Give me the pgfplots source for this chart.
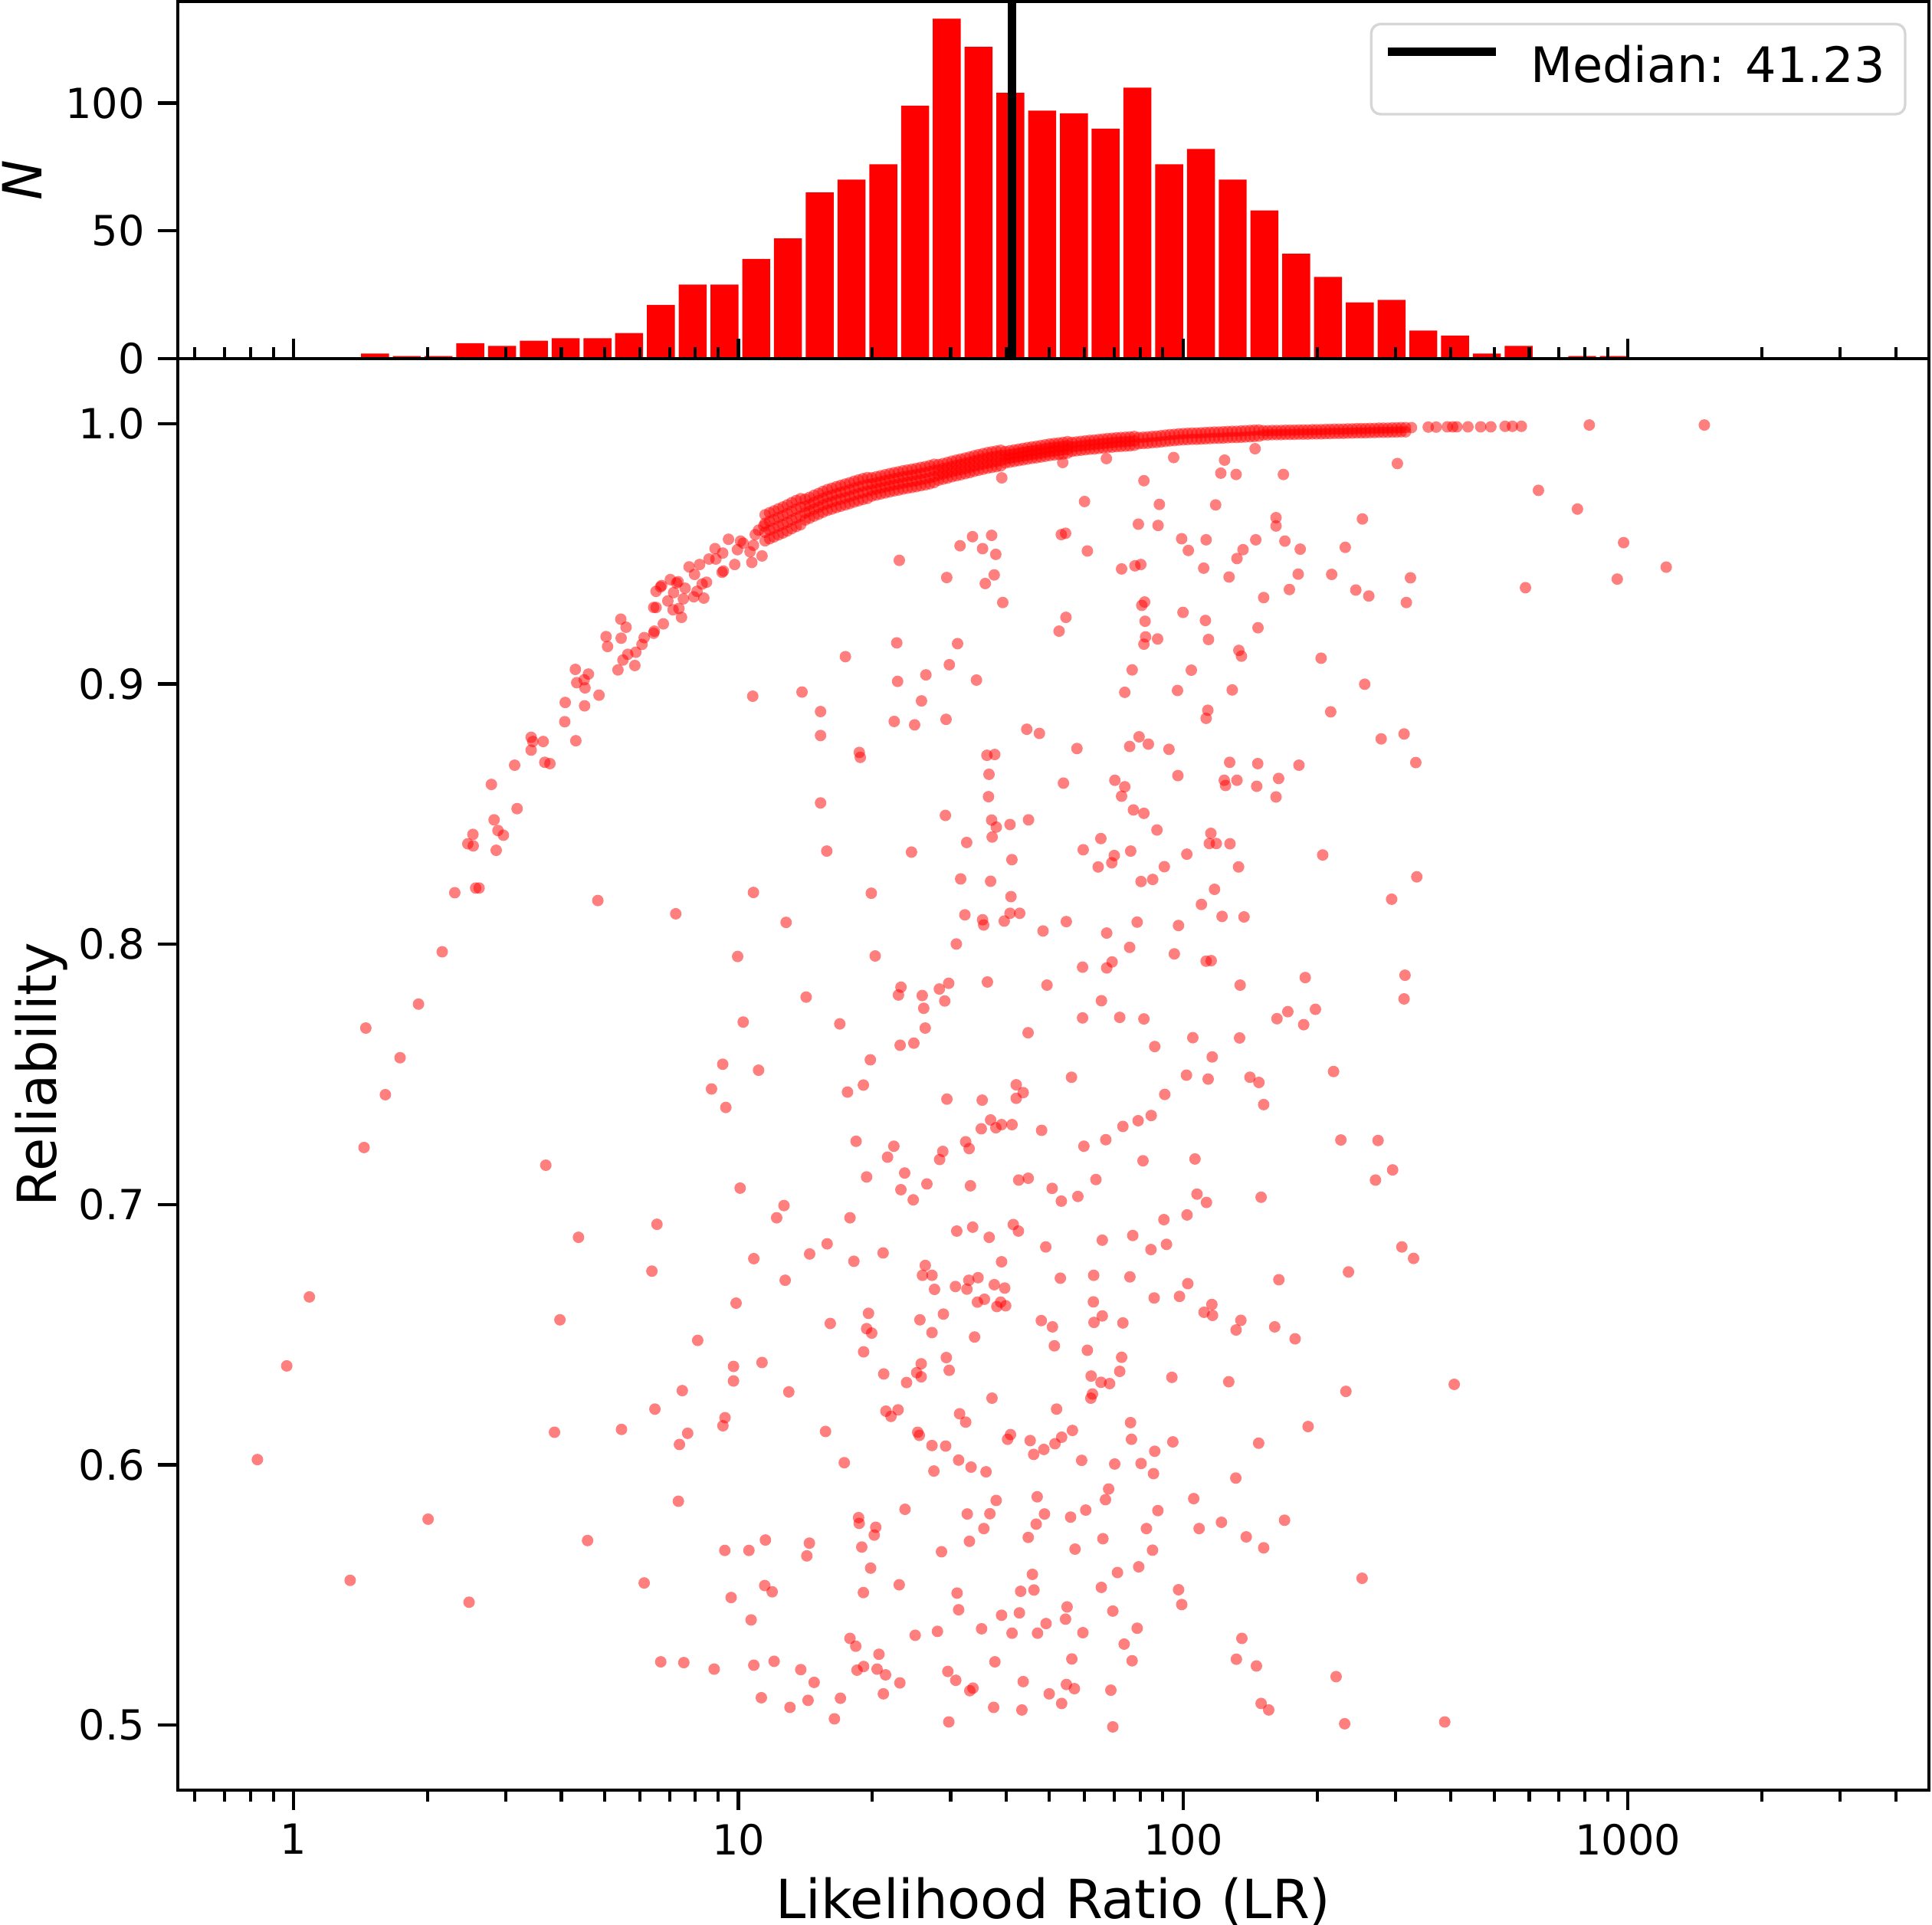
\documentclass[border=0pt]{standalone}
\usepackage{fontspec}
\setmainfont{DejaVu Sans}
\usepackage{pgfplots}
\pgfplotsset{compat=1.18}
\definecolor{legendgray}{gray}{0.84}

\begin{document}
\begin{tikzpicture}

% scatter: reliability against LR
\begin{axis}[name=main, at={(0,0)}, anchor=south west,
  scale only axis, width=548.4bp, height=448.32bp,
  xmode=log, xmin=0.549, xmax=4750,
  ymin=0.475, ymax=1.025,
  axis on top,
  axis line style={line width=1bp},
  every tick/.append style={black, line width=1bp},
  major tick length=6.2bp, minor tick length=3.6bp,
  tick pos=left, tick align=outside,
  xtick={1,10,100,1000},
  minor xtick={0.6,0.7,0.8,0.9,2,3,4,5,6,7,8,9,20,30,40,50,60,70,80,90,
               200,300,400,500,600,700,800,900,2000,3000,4000},
  xticklabels={1,10,100,1000},
  ytick={0.5,0.6,0.7,0.8,0.9,1.0},
  yticklabels={0.5,0.6,0.7,0.8,0.9,1.0},
  tick label style={font=\fontsize{13bp}{15.6bp}\selectfont, inner sep=0pt},
  xticklabel shift=4.2bp, yticklabel shift=4.0bp,
  label style={font=\fontsize{16.9bp}{20bp}\selectfont, inner sep=0pt},
  xlabel={Likelihood Ratio (LR)},
  ylabel={Reliability},
  xlabel style={at={(axis description cs:0.5,0)}, anchor=base, yshift=-40.1bp},
  ylabel style={at={(axis description cs:-0.0693,0.5)}, anchor=base},
]
\addplot[only marks, mark=*, mark size=1.8bp,
  mark options={draw opacity=0, fill=red, fill opacity=0.5}] coordinates {
% left arm of the band
(1.453,0.7678) (1.735,0.7564) (1.909,0.7770) (2.158,0.7971) (2.303,0.8198)
(2.566,0.8216) (2.612,0.8216) (2.464,0.8386) (2.53,0.8422) (2.534,0.8378)
(2.854,0.8361) (2.88,0.8437) (2.962,0.8419) (2.823,0.8478) (3.18,0.8521)
(2.784,0.8614) (3.14,0.8688) (3.42,0.8795) (3.45,0.8779) (3.42,0.8746)
(3.64,0.8779) (3.67,0.8699) (3.77,0.8694) (4.31,0.8782) (4.07,0.8855)
(4.08,0.8929) (4.51,0.8916) (4.86,0.8957) (4.30,0.9056) (4.60,0.9038)
(4.50,0.9016) (4.33,0.9005) (4.52,0.8985) (5.04,0.9182) (5.08,0.9144)
(5.44,0.9249) (5.59,0.9218) (5.45,0.9176) (5.36,0.9054) (5.50,0.9092)
(5.64,0.9114) (5.85,0.9071) (5.88,0.9122) (6.07,0.9152) (6.14,0.9178)
(6.45,0.9294) (6.53,0.9294) (6.47,0.9203) (6.45,0.9195) (6.78,0.9231)
(6.53,0.9356) (6.68,0.9373) (6.72,0.9378) (7.03,0.9401) (7.15,0.9351)
(7.26,0.9388) (7.32,0.9393) (7.59,0.9368) (7.52,0.9327) (6.94,0.9319)
(7.13,0.9285) (7.35,0.9290) (7.45,0.9256) (7.94,0.9335) (8.07,0.9356)
(8.36,0.9330) (8.29,0.9384) (8.48,0.9391) (7.75,0.9450) (7.97,0.9421)
(8.18,0.9459) (8.59,0.9480) (8.86,0.9520) (8.90,0.9480) (9.22,0.9503)
(9.19,0.9429) (9.25,0.9434) (9.50,0.9556) (9.81,0.9459) (9.95,0.9516)
(10.11,0.9549) (10.25,0.9541) (10.62,0.9508) (10.81,0.9533) (10.72,0.9467)
(10.91,0.9574) (11.10,0.9591) (11.40,0.9607) (11.30,0.9492)
% dense band, wide part
(11.48,0.9650) (11.48,0.9617) (11.48,0.9583) (11.48,0.9550)
(11.75,0.9658) (11.75,0.9625) (11.75,0.9591) (11.75,0.9558)
(12.02,0.9665) (12.02,0.9632) (12.02,0.9598) (12.02,0.9565)
(12.30,0.9673) (12.30,0.9640) (12.30,0.9606) (12.30,0.9573)
(12.59,0.9680) (12.59,0.9647) (12.59,0.9613) (12.59,0.9580)
(12.88,0.9688) (12.88,0.9655) (12.88,0.9621) (12.88,0.9588)
(13.18,0.9697) (13.18,0.9664) (13.18,0.9630) (13.18,0.9597)
(13.49,0.9705) (13.49,0.9672) (13.49,0.9638) (13.49,0.9605)
(13.80,0.9712) (13.80,0.9679) (13.80,0.9645) (13.80,0.9612)
(14.13,0.9710) (14.13,0.9683) (14.13,0.9657) (14.13,0.9630)
(14.45,0.9717) (14.45,0.9690) (14.45,0.9664) (14.45,0.9637)
(14.79,0.9725) (14.79,0.9698) (14.79,0.9672) (14.79,0.9645)
(15.14,0.9732) (15.14,0.9705) (15.14,0.9679) (15.14,0.9652)
(15.49,0.9740) (15.49,0.9713) (15.49,0.9687) (15.49,0.9660)
(15.85,0.9747) (15.85,0.9720) (15.85,0.9694) (15.85,0.9667)
(16.22,0.9752) (16.22,0.9725) (16.22,0.9699) (16.22,0.9672)
(16.60,0.9758) (16.60,0.9731) (16.60,0.9705) (16.60,0.9678)
(16.98,0.9763) (16.98,0.9736) (16.98,0.9710) (16.98,0.9683)
(17.38,0.9768) (17.38,0.9741) (17.38,0.9715) (17.38,0.9688)
(17.78,0.9773) (17.78,0.9746) (17.78,0.9720) (17.78,0.9693)
(18.20,0.9779) (18.20,0.9752) (18.20,0.9726) (18.20,0.9699)
(18.62,0.9784) (18.62,0.9757) (18.62,0.9731) (18.62,0.9704)
(19.05,0.9789) (19.05,0.9762) (19.05,0.9736) (19.05,0.9709)
(19.50,0.9793) (19.50,0.9766) (19.50,0.9740) (19.50,0.9713)
(19.95,0.9792) (19.95,0.9769) (19.95,0.9745) (19.95,0.9722)
(20.42,0.9796) (20.42,0.9773) (20.42,0.9749) (20.42,0.9726)
(20.89,0.9800) (20.89,0.9777) (20.89,0.9753) (20.89,0.9730)
(21.38,0.9804) (21.38,0.9781) (21.38,0.9757) (21.38,0.9734)
(21.88,0.9808) (21.88,0.9785) (21.88,0.9761) (21.88,0.9738)
(22.39,0.9812) (22.39,0.9789) (22.39,0.9765) (22.39,0.9742)
(22.91,0.9815) (22.91,0.9792) (22.91,0.9768) (22.91,0.9745)
(23.44,0.9819) (23.44,0.9796) (23.44,0.9772) (23.44,0.9749)
(23.99,0.9822) (23.99,0.9799) (23.99,0.9775) (23.99,0.9752)
(24.55,0.9825) (24.55,0.9802) (24.55,0.9778) (24.55,0.9755)
(25.12,0.9828) (25.12,0.9805) (25.12,0.9781) (25.12,0.9758)
(25.70,0.9832) (25.70,0.9809) (25.70,0.9785) (25.70,0.9762)
(26.30,0.9835) (26.30,0.9812) (26.30,0.9788) (26.30,0.9765)
(26.92,0.9839) (26.92,0.9816) (26.92,0.9792) (26.92,0.9769)
(27.54,0.9844) (27.54,0.9821) (27.54,0.9797) (27.54,0.9774)
(28.18,0.9843) (28.18,0.9823) (28.18,0.9803) (28.18,0.9783)
(28.84,0.9847) (28.84,0.9827) (28.84,0.9807) (28.84,0.9787)
(29.51,0.9851) (29.51,0.9831) (29.51,0.9811) (29.51,0.9791)
(30.20,0.9856) (30.20,0.9836) (30.20,0.9816) (30.20,0.9796)
(30.90,0.9860) (30.90,0.9840) (30.90,0.9820) (30.90,0.9800)
(31.62,0.9864) (31.62,0.9844) (31.62,0.9824) (31.62,0.9804)
(32.36,0.9868) (32.36,0.9848) (32.36,0.9828) (32.36,0.9808)
(33.11,0.9872) (33.11,0.9852) (33.11,0.9832) (33.11,0.9812)
(33.88,0.9877) (33.88,0.9857) (33.88,0.9837) (33.88,0.9817)
(34.67,0.9881) (34.67,0.9861) (34.67,0.9841) (34.67,0.9821)
(35.48,0.9885) (35.48,0.9865) (35.48,0.9845) (35.48,0.9825)
(36.31,0.9889) (36.31,0.9869) (36.31,0.9849) (36.31,0.9829)
(37.15,0.9892) (37.15,0.9872) (37.15,0.9852) (37.15,0.9832)
(38.02,0.9895) (38.02,0.9875) (38.02,0.9855) (38.02,0.9835)
(38.90,0.9898) (38.90,0.9878) (38.90,0.9858) (38.90,0.9838)
(39.81,0.9893) (39.81,0.9878) (39.81,0.9864) (39.81,0.9849)
(40.74,0.9896) (40.74,0.9881) (40.74,0.9867) (40.74,0.9852)
(41.69,0.9899) (41.69,0.9884) (41.69,0.9870) (41.69,0.9855)
(42.66,0.9902) (42.66,0.9887) (42.66,0.9873) (42.66,0.9858)
(43.65,0.9905) (43.65,0.9890) (43.65,0.9876) (43.65,0.9861)
(44.67,0.9908) (44.67,0.9893) (44.67,0.9879) (44.67,0.9864)
(45.71,0.9911) (45.71,0.9896) (45.71,0.9882) (45.71,0.9867)
(46.77,0.9913) (46.77,0.9898) (46.77,0.9884) (46.77,0.9869)
(47.86,0.9916) (47.86,0.9901) (47.86,0.9887) (47.86,0.9872)
(48.98,0.9919) (48.98,0.9904) (48.98,0.9890) (48.98,0.9875)
(50.12,0.9922) (50.12,0.9907) (50.12,0.9893) (50.12,0.9878)
(51.29,0.9924) (51.29,0.9909) (51.29,0.9895) (51.29,0.9880)
(52.48,0.9926) (52.48,0.9911) (52.48,0.9897) (52.48,0.9882)
(53.70,0.9928) (53.70,0.9913) (53.70,0.9899) (53.70,0.9884)
(54.95,0.9931) (54.95,0.9916) (54.95,0.9902) (54.95,0.9887)
% dense band, narrowing part
(56.23,0.9928) (56.23,0.9911) (56.23,0.9894)
(57.54,0.9930) (57.54,0.9913) (57.54,0.9896)
(58.88,0.9932) (58.88,0.9915) (58.88,0.9898)
(60.26,0.9934) (60.26,0.9917) (60.26,0.9900)
(61.66,0.9936) (61.66,0.9919) (61.66,0.9902)
(63.10,0.9937) (63.10,0.9920) (63.10,0.9903)
(64.57,0.9939) (64.57,0.9922) (64.57,0.9905)
(66.07,0.9941) (66.07,0.9924) (66.07,0.9907)
(67.61,0.9943) (67.61,0.9926) (67.61,0.9909)
(69.18,0.9944) (69.18,0.9927) (69.18,0.9910)
(70.79,0.9946) (70.79,0.9929) (70.79,0.9912)
(72.44,0.9947) (72.44,0.9930) (72.44,0.9913)
(74.13,0.9948) (74.13,0.9931) (74.13,0.9914)
(75.86,0.9949) (75.86,0.9932) (75.86,0.9915)
(77.62,0.9951) (77.62,0.9934) (77.62,0.9917)
(79.43,0.9947) (79.43,0.9923) (81.28,0.9948) (81.28,0.9924)
(83.18,0.9949) (83.18,0.9925) (85.11,0.9951) (85.11,0.9927)
(87.10,0.9952) (87.10,0.9928) (89.13,0.9954) (89.13,0.9930)
(91.20,0.9956) (91.20,0.9932) (93.33,0.9958) (93.33,0.9934)
(95.50,0.9959) (95.50,0.9935) (97.72,0.9961) (97.72,0.9937)
(100.0,0.9962) (100.0,0.9938) (102.3,0.9963) (102.3,0.9939)
(104.7,0.9964) (104.7,0.9940) (107.2,0.9964) (107.2,0.9940)
(109.6,0.9965) (109.6,0.9941) (112.2,0.9966) (112.2,0.9942)
(114.8,0.9967) (114.8,0.9943) (117.5,0.9968) (117.5,0.9944)
(120.2,0.9968) (120.2,0.9944) (123.0,0.9969) (123.0,0.9945)
(125.9,0.9970) (125.9,0.9946) (128.8,0.9971) (128.8,0.9947)
(131.8,0.9971) (131.8,0.9947) (134.9,0.9972) (134.9,0.9948)
(138.0,0.9973) (138.0,0.9949) (141.3,0.9974) (141.3,0.9950)
(144.5,0.9975) (144.5,0.9951) (147.9,0.9976) (147.9,0.9952)
(151.4,0.9973) (151.4,0.9957) (154.9,0.9973) (154.9,0.9957) (158.5,0.9974)
(158.5,0.9958) (162.2,0.9974) (162.2,0.9958) (166.0,0.9974) (166.0,0.9958)
(169.8,0.9975) (169.8,0.9959) (173.8,0.9975) (173.8,0.9959) (177.8,0.9975)
(177.8,0.9959) (182.0,0.9976) (182.0,0.9960) (186.2,0.9976) (186.2,0.9960)
(190.5,0.9976) (190.5,0.9960) (195.0,0.9977) (195.0,0.9961) (199.5,0.9977)
(199.5,0.9961) (204.2,0.9977) (204.2,0.9961) (208.9,0.9978) (208.9,0.9962)
(213.8,0.9978) (213.8,0.9962) (218.8,0.9979) (218.8,0.9963) (223.9,0.9979)
(223.9,0.9963) (229.1,0.9979) (229.1,0.9963) (234.4,0.9980) (234.4,0.9964)
(239.9,0.9980) (239.9,0.9964) (245.5,0.9981) (245.5,0.9965) (251.2,0.9981)
(251.2,0.9965) (257.0,0.9981) (257.0,0.9965) (263.0,0.9982) (263.0,0.9966)
(269.2,0.9982) (269.2,0.9966) (275.4,0.9983) (275.4,0.9967) (281.8,0.9983)
(281.8,0.9967) (288.4,0.9983) (288.4,0.9967) (295.1,0.9984) (295.1,0.9968)
(302.0,0.9984) (302.0,0.9968) (309.0,0.9985) (309.0,0.9969) (316.2,0.9985)
(316.2,0.9969)
(326,0.9985) (355.6,0.9987) (370.5,0.9987) (392.5,0.9988) (403.6,0.9988)
(412.3,0.9988) (436.7,0.9988) (466.5,0.9988) (491.7,0.9988) (529.3,0.9990)
(549.8,0.9990) (575.9,0.9990) (818.5,0.9995) (1485,0.9995)
% scattered, LR below 12
(10.77,0.8953) (10.81,0.8199) (4.83,0.8168) (7.23,0.8117) (9.96,0.7953)
(10.25,0.7701) (9.22,0.7539) (11.10,0.7516)
(1.608,0.7422) (1.44,0.7219) (3.69,0.7151) (10.09,0.7063) (8.70,0.7444)
(9.37,0.7373) (6.56,0.6924) (4.37,0.6874) (6.39,0.6744) (10.83,0.6792)
(1.085,0.6645) (3.97,0.6557) (9.88,0.6621) (8.10,0.6478) (0.965,0.6380)
(9.75,0.6378) (9.75,0.6322) (11.30,0.6393) (7.48,0.6285) (6.49,0.6214)
(9.33,0.6181) (9.23,0.6150) (3.86,0.6125) (5.46,0.6136) (7.69,0.6121)
(7.37,0.6078) (0.829,0.6020) (7.33,0.5860) (2.006,0.5791) (4.58,0.5709)
(9.32,0.5671) (10.56,0.5671) (11.50,0.5711) (1.34,0.5556) (2.48,0.5472)
(6.14,0.5546) (9.63,0.5490) (10.68,0.5404) (11.46,0.5536) (6.69,0.5243)
(7.54,0.5240) (8.82,0.5215) (10.83,0.5230) (11.26,0.5105)
% scattered, LR 12 to 150, upper half
(39.1,0.9792) (53.6,0.9851) (67.2,0.9866) (95.2,0.9870) (123.9,0.9860)
(121.5,0.9810) (131.5,0.9805) (145.1,0.9904) (81.6,0.9781) (60.0,0.9701)
(88.4,0.9690) (118.3,0.9688) (79.3,0.9614) (87.8,0.9609) (99.2,0.9558)
(112.6,0.9554) (102.7,0.9513) (145.6,0.9554) (136.3,0.9516) (132.1,0.9482)
(111.2,0.9445) (126.8,0.9411) (72.7,0.9442) (77.9,0.9454) (80.3,0.9459)
(60.9,0.9511) (53.2,0.9574) (54.4,0.9579) (31.5,0.9531) (33.6,0.9566)
(37.1,0.9571) (35.4,0.9520) (37.9,0.9498) (23.0,0.9475) (29.4,0.9409)
(37.6,0.9419) (35.9,0.9386) (39.3,0.9313) (151.7,0.9332) (80.7,0.9302)
(81.9,0.9315) (99.9,0.9275) (112.2,0.9244) (82.1,0.9241) (54.5,0.9256)
(52.6,0.9203) (82.3,0.9181) (87.6,0.9173) (81.6,0.9153) (114.0,0.9171)
(147.3,0.9216) (133.4,0.9129) (135.2,0.9107) (22.7,0.9158) (31.1,0.9155)
(17.4,0.9105) (29.8,0.9074) (26.4,0.9035) (22.8,0.9010) (34.3,0.9015)
(13.9,0.8969) (25.8,0.8935) (15.3,0.8894) (22.4,0.8856) (24.9,0.8843)
(29.3,0.8864) (15.3,0.8802) (18.7,0.8737) (18.8,0.8718) (44.5,0.8826)
(47.5,0.8810) (57.7,0.8752) (36.2,0.8726) (37.7,0.8729) (36.6,0.8653)
(53.8,0.8619) (36.5,0.8567) (15.3,0.8543) (29.2,0.8495) (37.1,0.8477)
(38.0,0.8450) (37.2,0.8412) (40.8,0.8460) (44.9,0.8478) (76.8,0.9054)
(104.3,0.9053) (73.9,0.8968) (97.1,0.8975) (128.9,0.8977) (113.6,0.8899)
(112.6,0.8868) (79.6,0.8797) (75.8,0.8760) (83.5,0.8769) (92.9,0.8749)
(127.2,0.8699) (147.1,0.8694) (97.3,0.8648) (70.2,0.8630) (73.9,0.8605)
(72.7,0.8569) (123.7,0.8630) (124.5,0.8610) (132.1,0.8630) (146.3,0.8607)
(77.3,0.8516) (81.6,0.8503) (87.3,0.8439) (65.3,0.8406) (115.4,0.8426)
(114.5,0.8387) (118.7,0.8387) (127.4,0.8386) (59.6,0.8363) (70.0,0.8341)
(69.1,0.8313) (64.4,0.8297) (76.2,0.8358) (101.9,0.8346) (90.7,0.8298)
(133.2,0.8297) (80.4,0.8241) (85.4,0.8249) (117.6,0.8211) (109.9,0.8153)
(122.3,0.8107) (137.0,0.8105) (32.6,0.8391) (41.2,0.8325) (31.6,0.8251)
(36.9,0.8242) (41.0,0.8183) (15.8,0.8358) (24.5,0.8354) (19.9,0.8196)
(12.8,0.8084) (32.3,0.8113) (35.4,0.8094) (35.6,0.8074) (39.6,0.8089)
(40.8,0.8119) (42.9,0.8119) (48.4,0.8051) (54.6,0.8087) (67.3,0.8043)
(78.8,0.8085) (97.6,0.8072) (75.8,0.7988) (95.5,0.7963) (112.6,0.7935)
(115.6,0.7937) (69.2,0.7932) (67.3,0.7909) (59.4,0.7912) (30.9,0.8001)
(20.3,0.7955) (14.2,0.7797) (23.2,0.7835) (22.9,0.7805) (25.9,0.7803)
(26.1,0.7754) (28.3,0.7828) (29.7,0.7850) (29.1,0.7782) (36.3,0.7855)
(49.4,0.7843) (65.5,0.7783) (134.3,0.7843) (16.9,0.7694) (26.3,0.7678)
(23.1,0.7612) (24.8,0.7620) (19.8,0.7556) (44.8,0.7660) (59.4,0.7717)
(72.0,0.7719) (81.6,0.7713) (86.3,0.7607) (105.1,0.7641) (116.2,0.7567)
(133.9,0.7640)
% scattered, LR 12 to 150, lower half
(17.59,0.7432) (19.10,0.7459) (29.43,0.7405) (35.33,0.7401) (42.13,0.7460)
(43.68,0.7430) (42.13,0.7408) (56.09,0.7489) (101.7,0.7497) (113.8,0.7482)
(141.3,0.7489) (148.0,0.7469) (90.9,0.7423) (36.9,0.7325) (39.06,0.7307)
(41.23,0.7307) (35.16,0.7291) (37.92,0.7295) (48.05,0.7285) (18.39,0.7243)
(22.36,0.7224) (21.64,0.7182) (28.81,0.7204) (28.34,0.7173) (32.43,0.7241)
(33.02,0.7215) (59.80,0.7224) (66.99,0.7249) (73.19,0.7300) (79.20,0.7322)
(84.75,0.7342) (81.21,0.7168) (106.3,0.7175) (151.7,0.7384) (19.42,0.7106)
(23.65,0.7121) (26.53,0.7079) (23.19,0.7057) (24.72,0.7018) (33.24,0.7072)
(42.68,0.7094) (44.84,0.7101) (50.74,0.7062) (53.21,0.7013) (57.97,0.7031)
(63.65,0.7096) (107.4,0.7040) (112.8,0.7008) (102.0,0.6960) (149.7,0.7028)
(90.5,0.6942) (12.66,0.6996) (12.19,0.6949) (17.82,0.6949) (30.97,0.6898)
(33.63,0.6913) (36.63,0.6874) (41.50,0.6923) (42.61,0.6898) (49.09,0.6837)
(65.78,0.6863) (77.02,0.6881) (84.62,0.6827) (91.71,0.6847) (14.46,0.6810)
(15.83,0.6849) (18.18,0.6782) (21.15,0.6814) (12.74,0.6709) (26.31,0.6766)
(25.93,0.6728) (27.24,0.6728) (27.60,0.6674) (30.76,0.6685) (32.64,0.6675)
(32.97,0.6709) (34.58,0.6719) (37.61,0.6692) (39.70,0.6679) (39.06,0.6780)
(35.74,0.6636) (34.47,0.6625) (38.11,0.6608) (38.87,0.6625) (39.90,0.6611)
(52.95,0.6717) (62.92,0.6728) (75.90,0.6722) (102.4,0.6696) (86.04,0.6641)
(98.10,0.6647) (116.0,0.6616) (111.4,0.6586) (116.4,0.6574) (134.8,0.6555)
(131.5,0.6518) (62.82,0.6626) (65.78,0.6572) (63.03,0.6547) (73.19,0.6545)
(47.97,0.6554) (50.82,0.6530) (51.32,0.6457) (60.89,0.6440) (72.71,0.6413)
(71.99,0.6359) (62.10,0.6341) (65.35,0.6317) (68.32,0.6312) (62.52,0.6272)
(62.00,0.6256) (94.32,0.6336) (126.6,0.6319) (19.61,0.6582) (16.09,0.6543)
(19.42,0.6523) (19.94,0.6506) (19.12,0.6434) (25.59,0.6557) (28.90,0.6579)
(27.24,0.6508) (33.96,0.6491) (29.34,0.6412) (29.78,0.6363) (25.76,0.6388)
(25.17,0.6354) (25.76,0.6338) (23.88,0.6316) (21.22,0.6349) (12.98,0.6280)
(37.17,0.6256) (51.92,0.6214) (21.46,0.6206) (22.85,0.6211) (22.03,0.6186)
(31.43,0.6196) (32.43,0.6164) (15.70,0.6128) (25.30,0.6125) (25.51,0.6113)
(27.24,0.6074) (29.24,0.6072) (40.90,0.6116) (40.29,0.6098) (45.29,0.6093)
(46.11,0.6040) (48.61,0.6059) (51.49,0.6081) (53.30,0.6106) (56.36,0.6132)
(76.15,0.6162) (76.52,0.6098) (94.78,0.6088) (86.30,0.6052) (147.8,0.6083)
(17.30,0.6008) (27.51,0.5976) (31.27,0.6018) (33.35,0.5991) (36.04,0.5973)
(59.12,0.6017) (70.15,0.6003) (80.41,0.6005) (85.75,0.5966) (131.3,0.5949)
(67.98,0.5907) (66.88,0.5866) (46.96,0.5877) (37.98,0.5863) (105.6,0.5870)
(87.72,0.5824) (60.39,0.5826) (55.83,0.5799) (48.77,0.5811) (46.72,0.5772)
(44.84,0.5721) (36.76,0.5812) (32.70,0.5811) (35.63,0.5755) (33.07,0.5706)
(23.69,0.5829) (18.63,0.5797) (18.69,0.5775) (20.36,0.5760) (20.20,0.5730)
(18.94,0.5684) (14.44,0.5699) (14.25,0.5650) (28.62,0.5666) (57.13,0.5676)
(66.00,0.5716) (82.67,0.5755) (85.32,0.5672) (108.6,0.5755) (121.9,0.5779)
(138.6,0.5723) (151.7,0.5681) (19.83,0.5603) (19.10,0.5509) (22.99,0.5539)
(11.91,0.5512) (31.02,0.5507) (31.27,0.5443) (45.81,0.5579) (43.11,0.5514)
(46.18,0.5519) (39.06,0.5422) (42.83,0.5431) (54.82,0.5454) (54.38,0.5407)
(49.17,0.5390) (47.04,0.5353) (41.23,0.5353) (35.22,0.5370) (28.02,0.5360)
(24.97,0.5345) (59.50,0.5355) (65.47,0.5529) (71.16,0.5586) (79.46,0.5608)
(69.47,0.5438) (78.81,0.5372) (73.68,0.5311) (97.63,0.5520) (99.25,0.5463)
(135.5,0.5333) (131.7,0.5253) (146.1,0.5227) (17.82,0.5333) (18.36,0.5303)
(20.70,0.5272) (19.12,0.5225) (18.48,0.5211) (20.50,0.5215) (21.42,0.5193)
(23.07,0.5162) (21.18,0.5120) (12.03,0.5245) (13.81,0.5213) (14.80,0.5164)
(14.34,0.5095) (13.06,0.5068) (16.96,0.5103) (16.44,0.5024) (29.57,0.5206)
(30.81,0.5172) (33.13,0.5132) (33.68,0.5142) (37.73,0.5243) (43.68,0.5167)
(37.49,0.5068) (43.39,0.5058) (49.98,0.5120) (53.30,0.5083) (54.63,0.5156)
(56.94,0.5140) (56.19,0.5254) (76.77,0.5247) (68.77,0.5134) (69.47,0.4993)
(29.72,0.5012) (149.7,0.5083)
% scattered, LR above 150
(303.1,0.9847) (168.0,0.9805) (629.1,0.9744) (770.0,0.9672) (161.7,0.9639)
(161.7,0.9607) (252.9,0.9634) (169.3,0.9549) (183.3,0.9518) (231.4,0.9525)
(977.7,0.9543) (1219,0.9449) (946,0.9403) (588.2,0.9370) (181.4,0.9422)
(215.7,0.9421) (173.3,0.9363) (244.4,0.9361) (261.4,0.9338) (324.3,0.9408)
(317.5,0.9313) (204.2,0.9099) (255.9,0.8999) (214.6,0.8893) (278.7,0.8789)
(313.8,0.8808) (182.1,0.8688) (333.4,0.8698) (163.9,0.8637) (161.7,0.8566)
(205.9,0.8343) (335.1,0.8259) (294.2,0.8173) (188.1,0.7872) (315.3,0.7881)
(313.8,0.7790) (162.5,0.7714) (171.9,0.7741) (198.3,0.7750) (186.6,0.7691)
(217.8,0.7511)
(226.2,0.7248) (274.2,0.7246) (295.7,0.7133) (270.6,0.7094) (310.2,0.6837)
(329.6,0.6793) (235.3,0.6741) (164.1,0.6711) (160.6,0.6530) (178.5,0.6484)
(406.8,0.6309) (232.2,0.6282) (190.9,0.6147) (169.0,0.5787) (252.5,0.5564)
(220.7,0.5186) (155.7,0.5058) (230.7,0.5005) (387.3,0.5012)
};
\end{axis}

% histogram of LR on top
\begin{axis}[at={(main.north west)}, anchor=south west,
  scale only axis, width=548.4bp, height=111.84bp,
  xmode=log, xmin=0.549, xmax=4750,
  ymin=0, ymax=139.7,
  axis on top,
  axis line style={line width=1bp},
  every tick/.append style={black, line width=1bp},
  major tick length=6.2bp, minor tick length=3.6bp,
  tick pos=left, ytick align=outside, xtick align=inside,
  xtick={1,10,100,1000},
  minor xtick={0.6,0.7,0.8,0.9,2,3,4,5,6,7,8,9,20,30,40,50,60,70,80,90,
               200,300,400,500,600,700,800,900,2000,3000,4000},
  xticklabels={},
  ytick={0,50,100}, yticklabels={0,50,100},
  tick label style={font=\fontsize{13bp}{15.6bp}\selectfont, inner sep=0pt},
  yticklabel shift=4.0bp,
  label style={font=\fontsize{16.9bp}{20bp}\selectfont, inner sep=0pt},
  ylabel={\itshape N},
  ylabel style={at={(axis description cs:-0.0779,0.5)}, anchor=base},
  legend style={at={(axis description cs:0.9871,0.9405)}, anchor=north east,
    draw=legendgray, line width=0.8bp, rounded corners=2.9bp, fill=white,
    inner xsep=3.9bp, inner ysep=6.6bp,
    font=\fontsize{15.3bp}{18bp}\selectfont,
    nodes={inner sep=0pt, text depth=3.4bp},
    /tikz/every odd column/.append style={column sep=9.5bp}},
  legend image code/.code={\draw[#1, line width=2.7bp] (0bp,5.5bp) -- (33.8bp,5.5bp);},
]
\addplot[ybar interval, /pgf/bar interval width=0.88, /pgf/bar interval shift=0.5,
  fill=red, draw=none, forget plot] table {
edge count
1.404 2
1.6545 1
1.9502 1
2.2990 6
2.7102 5
3.1945 7
3.7651 8
4.4381 8
5.2323 10
6.1672 21
7.2694 29
8.5685 29
10.100 39
11.904 47
14.036 65
16.545 70
19.498 76
22.983 99
27.094 133
31.938 122
37.642 104
44.372 97
52.303 96
61.652 90
72.677 106
85.660 76
100.97 82
119.02 70
140.28 58
165.37 41
194.93 32
229.76 22
270.82 23
319.28 11
376.34 9
443.61 2
522.87 5
616.30 0
726.60 1
856.44 1
1009.5 0
};
\addplot[black, line width=2.7bp] coordinates {(41.23,0) (41.23,139.7)};
\addlegendentry{Median: 41.23\rule{2.3bp}{0pt}}
\end{axis}

\pgfresetboundingbox
\path[use as bounding box] (-55.68bp,-42.24bp) rectangle (549.36bp,560.64bp);
\end{tikzpicture}
\end{document}
